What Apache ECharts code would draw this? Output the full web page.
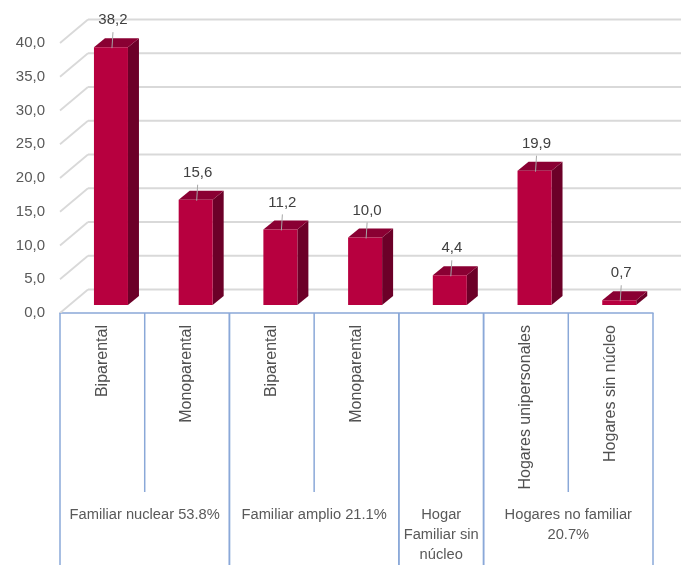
<!DOCTYPE html>
<html>
<head>
<meta charset="utf-8">
<script src="https://cdn.jsdelivr.net/npm/echarts@6/dist/echarts.min.js"></script>
<style>
  html, body { margin: 0; padding: 0; background: #fff; }
  #chart { width: 681px; height: 565px; }
</style>
</head>
<body>
<div id="chart"></div>
<script>
// datos
const categories = ['Biparental', 'Monoparental', 'Biparental', 'Monoparental', '', 'Hogares unipersonales', 'Hogares sin núcleo']
const values = [38.2, 15.6, 11.2, 10.0, 4.4, 19.9, 0.7]
const groupLabels = ['Familiar nuclear 53.8%', 'Familiar amplio 21.1%', 'Hogar\nFamiliar sin\nnúcleo', 'Hogares no familiar\n20.7%']
const groupSizes = [2, 2, 1, 2]
const yTicks = [0, 5, 10, 15, 20, 25, 30, 35, 40]

// efecto 3D (px)
const DX = 28, DY = -23.5     // profundidad del muro
const BX = 11, BY = -9        // profundidad de la barra
const TEXT = '#595959'
const BLUE = '#8aa8d8'

const fmt = v => v.toFixed(1).replace('.', ',')

// inicio de cada grupo
const groupStarts = []
groupSizes.reduce((acc, n) => { groupStarts.push(acc); return acc + n }, 0)

const chart = echarts.init(document.getElementById('chart'))

const option = {
    animation: false,
    grid: { left: 60, right: 28, top: 43, bottom: 252 },
    xAxis: {
        type: 'category',
        data: categories,
        axisLine: { show: true, lineStyle: { color: BLUE, width: 1.5 } },
        axisTick: { show: false },
        axisLabel: {
            rotate: 90, interval: 0, margin: 12,
            color: '#505050', fontSize: 16, fontFamily: 'Liberation Sans'
        },
        splitLine: { show: false }
    },
    yAxis: {
        type: 'value', min: 0, max: 40, interval: 5,
        axisLine: { show: false },
        axisTick: { show: false },
        splitLine: { show: false },
        axisLabel: {
            margin: 15, color: TEXT, fontSize: 15, fontFamily: 'Liberation Sans',
            formatter: v => fmt(v)
        }
    },
    series: [
        {
            // lineas de la pared y piso
            type: 'custom',
            clip: false,
            silent: true,
            z: 1,
            data: yTicks.map(v => [0, v]),
            renderItem: (params, api) => {
                const bw = api.size([1, 0])[0]
                const p = api.coord([0, api.value(1)])
                const q = api.coord([categories.length - 1, api.value(1)])
                const x0 = p[0] - bw / 2
                const x1 = q[0] + bw / 2
                const y = p[1]
                const st = { stroke: '#d9d9d9', lineWidth: 1.8 }
                return {
                    type: 'group',
                    children: [
                        { type: 'line', shape: { x1: x0, y1: y, x2: x0 + DX, y2: y + DY }, style: st },
                        { type: 'line', shape: { x1: x0 + DX, y1: y + DY, x2: x1 + DX, y2: y + DY }, style: st }
                    ]
                }
            }
        },
        {
            // barras 3D
            type: 'custom',
            clip: false,
            z: 3,
            data: values.map((v, i) => [i, v]),
            renderItem: (params, api) => {
                const i = api.value(0), v = api.value(1)
                const c = api.coord([i, v])
                const b = api.coord([i, 0])
                const cx = c[0] + 8.6
                const w = 34
                const xl = cx - w / 2, xr = cx + w / 2
                const top = c[1] - 8, bot = b[1] - 8
                return {
                    type: 'group',
                    children: [
                        { type: 'polygon', shape: { points: [[xr, top], [xr, bot], [xr + BX, bot + BY], [xr + BX, top + BY]] }, style: { fill: '#6c0028' } },
                        { type: 'polygon', shape: { points: [[xl, top], [xr, top], [xr + BX, top + BY], [xl + BX, top + BY]] }, style: { fill: '#8a0033' } },
                        { type: 'rect', shape: { x: xl, y: top, width: w, height: bot - top }, style: { fill: '#b7003f' } },
                        { type: 'line', shape: { x1: cx + 1, y1: top + 1, x2: cx + 2, y2: top - 15 }, style: { stroke: '#a6a6a6', lineWidth: 1 } },
                        {
                            type: 'text', x: cx + 2, y: top - 27,
                            style: { text: fmt(v), fill: '#404040', fontSize: 15, fontFamily: 'Liberation Sans', align: 'center', verticalAlign: 'middle' }
                        }
                    ]
                }
            }
        },
        {
            // tabla del eje x con grupos
            type: 'custom',
            clip: false,
            silent: true,
            z: 2,
            data: groupStarts.map((s, g) => [s, 0, g]),
            renderItem: (params, api) => {
                const s = api.value(0), g = api.value(2)
                const n = groupSizes[g]
                const bw = api.size([1, 0])[0]
                const p = api.coord([s, 0])
                const y0 = p[1]
                const xl = p[0] - bw / 2
                const xr = xl + bw * n
                const st = { stroke: BLUE, lineWidth: 1.5 }
                const kids = [
                    { type: 'line', shape: { x1: xl, y1: y0, x2: xl, y2: 565 }, style: st },
                    { type: 'line', shape: { x1: xr, y1: y0, x2: xr, y2: 565 }, style: st }
                ]
                for (let k = 1; k < n; k++) {
                    const x = xl + bw * k
                    kids.push({ type: 'line', shape: { x1: x, y1: y0, x2: x, y2: 492 }, style: st })
                }
                kids.push({
                    type: 'text', x: (xl + xr) / 2, y: 505,
                    style: { text: groupLabels[g], fill: TEXT, fontSize: 14.7, fontFamily: 'Liberation Sans', align: 'center', verticalAlign: 'top', lineHeight: 20 }
                })
                return { type: 'group', children: kids }
            }
        }
    ]
}

chart.setOption(option)
</script>
</body>
</html>
